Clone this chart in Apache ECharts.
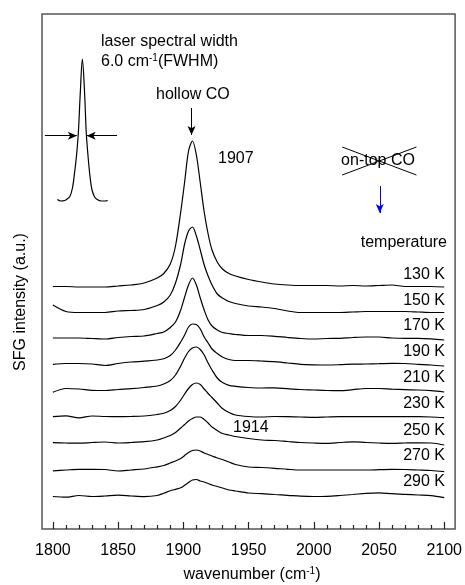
<!DOCTYPE html>
<html>
<head>
<meta charset="utf-8">
<script src="https://cdn.jsdelivr.net/npm/echarts@6/dist/echarts.min.js"></script>
<style>
  html, body { margin: 0; padding: 0; background: #fff; }
  #chart { width: 465px; height: 585px; }
</style>
</head>
<body>
<div id="chart"></div>
<script>
// 横轴采样点 (cm-1)
const wavenumber = [1800, 1810, 1820, 1830, 1840, 1850, 1860, 1870, 1880,
  1885, 1890, 1894, 1898, 1901, 1904, 1907, 1910, 1913, 1916, 1919, 1922, 1926, 1930, 1935, 1940,
  1950, 1960, 1970, 1980, 1990, 2000, 2010, 2020, 2030, 2040, 2050, 2060, 2070, 2080, 2090, 2100]

const temps = ['130 K', '150 K', '170 K', '190 K', '210 K', '230 K', '250 K', '270 K', '290 K']
// 每条谱线的竖直偏移
const offsets = [242, 216.5, 191, 165, 137.5, 112, 86.5, 58.5, 32.7]

const sfg130 = [0.5, 0.5, 0, 0, 0, 1, 2, 4, 9,
  13.5, 23, 41, 75, 105, 136, 146, 132, 104, 75, 53, 37, 25, 18, 13.5, 11,
  7.5, 5, 3, 2, 1.5, 1.5, 1.5, 1, 1.5, 1, 1.5, 2, 0.5, 0.5, 0.5, 0]
const sfg150 = [7.5, 1, 0, 0, 0, 1.5, 2, 3, 7,
  10.5, 17.5, 29.5, 48.5, 68.5, 81.5, 85.5, 76.5, 62.5, 47.5, 36.5, 27.5, 18.5, 14.5, 11, 9,
  6.5, 5.5, 4, 1.5, 0, 0, 0, 0, 0.5, 1, 1, 1, 1, 0.5, 0, 0]
const sfg170 = [0, 0, 0, -0.5, -1, 0.5, 1.5, 2, 4.5,
  6, 10.5, 16, 28, 41, 53, 60, 53, 40, 28, 18, 12, 8, 5.5, 4.5, 3.5,
  2.5, 2.5, 1.7, 0.5, -0.5, -1, -0.5, -0.3, 0.5, 1, 1, 0, -0.3, -0.3, -0.8, -2]
const sfg190 = [-0.3, 0.5, 0.5, 0, -1.5, 0.5, 2, 2.8, 4,
  5.2, 8.5, 14, 22, 29, 37, 40, 39.5, 35, 27, 21, 15, 10.5, 7, 4.5, 3.5,
  3.5, 3, 2.3, 1, -0.3, -0.8, -1, -0.7, -0.2, 0, 0.3, 0.7, 0.5, -0.3, -1, -2]
const sfg210 = [-0.8, 3, 2.5, 1.2, 1, 2, 2.8, 4, 5.5,
  7.5, 11, 16.5, 25.5, 33.5, 40, 43.5, 44.5, 42, 36.5, 28.5, 21.5, 13.5, 9, 6.2, 5.2,
  4, 3.5, 3.7, 2.8, 2, 1.5, 1, 0.8, 1.8, 3, 3, 2.3, 1.8, 1.5, 0.8, -0.5]
const sfg230 = [0.3, 1.2, -0.8, 1, 0.5, 0.3, 0.5, 1, 2.5,
  3.7, 6.5, 10.5, 17, 23, 28.5, 32.5, 34, 32.5, 28, 23.5, 19.5, 14, 8.5, 4.5, 2,
  0.5, 0, 0.5, 0.3, 0, -0.3, 0, 0.3, 0.3, 0.3, 0.3, 0.3, 0.3, 0.3, 0, -0.7]
const sfg250 = [-0.2, -0.5, -0.7, 0, 0.5, -0.5, 0, 0.8, 2.5,
  4.5, 7, 10, 14.5, 18, 21.5, 24, 25.5, 25.5, 23, 19.5, 15.5, 12, 9, 7.5, 6,
  4, 2.5, 2, 1, 0, -0.5, -0.8, 0, 0.7, 0, -0.5, -0.8, -0.5, -0.3, -0.5, -2.5]
const sfg270 = [-0.3, 0.5, 1.2, 1.2, 1, -0.5, 0.5, 1.5, 3.7,
  5, 7.5, 9.5, 12, 15, 18, 20, 20.5, 19.5, 17.5, 16, 14.5, 12.5, 11, 8.5, 6,
  3.5, 3, 2.2, 1.2, 0.5, 0.5, 0.5, 0.5, 0.5, 0.5, 0.8, 1.2, 1, 0.5, 0, -1.2]
const sfg290 = [-0.2, -0.9, 0.8, -0.2, 0.3, 1.1, 0.3, -0.3, 0.8,
  3, 5.5, 7, 8.5, 11, 13.8, 16.3, 16.8, 15.3, 14.3, 12.8, 11.3, 9.8, 8.3, 6.3, 5.3,
  3.3, 2.6, 1.8, 1, 0.1, -0.2, 0, 0.8, 1.8, 3, 3.5, 2.6, 2, 1.3, 0.6, -1.4]
const sfgData = [sfg130, sfg150, sfg170, sfg190, sfg210, sfg230, sfg250, sfg270, sfg290]

// 激光光谱 (左上角小图)
const laserWn = [1803.5, 1806, 1809, 1811, 1813, 1815, 1816.5, 1818, 1819.5, 1821, 1822.6,
  1824.3, 1825.6, 1827, 1828.5, 1830, 1832, 1834, 1837, 1840, 1842]
const laserInt = [1.5, 0, 0.5, 2, 4.5, 13, 27, 44, 68, 108, 142,
  108, 68, 44, 24, 11, 4, 1.5, 0, 0, 0.5]
const laserOffset = 328

// 刻度
const majorTicks = [1800, 1850, 1900, 1950, 2000, 2050, 2100]
const minorTicks = [1810, 1820, 1830, 1840, 1860, 1870, 1880, 1890, 1910, 1920, 1930, 1940,
  1960, 1970, 1980, 1990, 2010, 2020, 2030, 2040, 2060, 2070, 2080, 2090]

const FONT = '"Liberation Sans", Arial, sans-serif'

const chart = echarts.init(document.getElementById('chart'), null, { renderer: 'canvas' })

const series = temps.map((t, i) => ({
  name: t,
  type: 'line',
  data: wavenumber.map((w, j) => [w, sfgData[i][j] + offsets[i]]),
  smooth: 0.3,
  symbol: 'none',
  silent: true,
  lineStyle: { color: '#000', width: 1.2 }
}))

// 激光线 + 所有箭头标注
series.push({
  name: 'laser',
  type: 'line',
  data: laserWn.map((w, j) => [w, laserInt[j] + laserOffset]),
  smooth: 0.35,
  symbol: 'none',
  silent: true,
  lineStyle: { color: '#000', width: 1.2 },
  markLine: {
    silent: true,
    animation: false,
    label: { show: false },
    symbol: ['none', 'arrow'],
    symbolSize: [6, 9],
    lineStyle: { color: '#000', width: 1, type: 'solid' },
    data: [
      [{ coord: [1793.9, 393.3] }, { coord: [1818.4, 393.3] }],
      [{ coord: [1849.2, 393.3] }, { coord: [1825.9, 393.3] }],
      [{ coord: [1906.3, 421] }, { coord: [1906.3, 394] }],
      [{ coord: [2050.6, 343], lineStyle: { color: '#0000ff' }, itemStyle: { color: '#0000ff' } },
        { coord: [2050.6, 316], lineStyle: { color: '#0000ff' }, itemStyle: { color: '#0000ff' } }],
      [{ coord: [2021.8, 382], symbol: 'none' }, { coord: [2078.7, 354], symbol: 'none' }],
      [{ coord: [2021.8, 354], symbol: 'none' }, { coord: [2078.7, 382], symbol: 'none' }]
    ]
  }
})

function txt (text, x, y, align, extra) {
  return Object.assign({
    type: 'text',
    silent: true,
    style: {
      text: text,
      x: x,
      y: y,
      fontSize: 16,
      fontFamily: FONT,
      fill: '#000',
      align: align || 'left',
      verticalAlign: 'middle'
    }
  }, extra || {})
}

const sup = { fontSize: 10, fontFamily: FONT, fill: '#000', verticalAlign: 'top', lineHeight: 18 }
const norm = { fontSize: 16, fontFamily: FONT, fill: '#000', lineHeight: 18 }

const graphic = [
  txt('laser spectral width', 101, 42),
  {
    type: 'text',
    silent: true,
    style: {
      text: '{n|6.0 cm}{s|-1}{n|(FWHM)}',
      x: 101,
      y: 62,
      verticalAlign: 'middle',
      rich: { n: norm, s: sup }
    }
  },
  txt('hollow CO', 156, 95),
  txt('1907', 218, 159),
  txt('on-top CO', 378, 161, 'center'),
  txt('temperature', 447, 243, 'right'),
  txt('1914', 233, 428),
  {
    type: 'text',
    silent: true,
    style: {
      text: '{n|wavenumber (cm}{s|-1}{n|)}',
      x: 252,
      y: 575,
      align: 'center',
      verticalAlign: 'middle',
      rich: { n: norm, s: sup }
    }
  },
  txt('SFG intensity (a.u.)', 0, 0, 'center', { x: 21, y: 302, rotation: Math.PI / 2 })
]
// 温度标签
const labelY = [275, 300.7, 326, 351.7, 377.3, 404, 430.7, 456, 481.7]
temps.forEach((t, i) => graphic.push(txt(t, 445, labelY[i], 'right')))

const option = {
  animation: false,
  backgroundColor: '#fff',
  grid: {
    left: 42,
    right: 6,
    top: 14,
    bottom: 56,
    show: true,
    borderColor: '#555',
    borderWidth: 1.5
  },
  xAxis: [
    {
      type: 'value',
      min: 1791.65,
      max: 2108.35,
      position: 'bottom',
      axisLine: { show: false },
      splitLine: { show: false },
      axisTick: {
        inside: true,
        length: 7,
        customValues: majorTicks,
        lineStyle: { color: '#222', width: 1.2 }
      },
      axisLabel: {
        customValues: majorTicks,
        formatter: (v) => String(v),
        fontSize: 16,
        fontFamily: FONT,
        color: '#000',
        margin: 14
      }
    },
    {
      type: 'value',
      min: 1791.65,
      max: 2108.35,
      position: 'bottom',
      axisLine: { show: false },
      splitLine: { show: false },
      axisTick: {
        inside: true,
        length: 4,
        customValues: minorTicks,
        lineStyle: { color: '#222', width: 1.2 }
      },
      axisLabel: { show: false }
    }
  ],
  yAxis: {
    type: 'value',
    min: 0,
    max: 515,
    axisLine: { show: false },
    axisTick: { show: false },
    axisLabel: { show: false },
    splitLine: { show: false }
  },
  series: series,
  graphic: graphic
}

chart.setOption(option)
</script>
</body>
</html>
